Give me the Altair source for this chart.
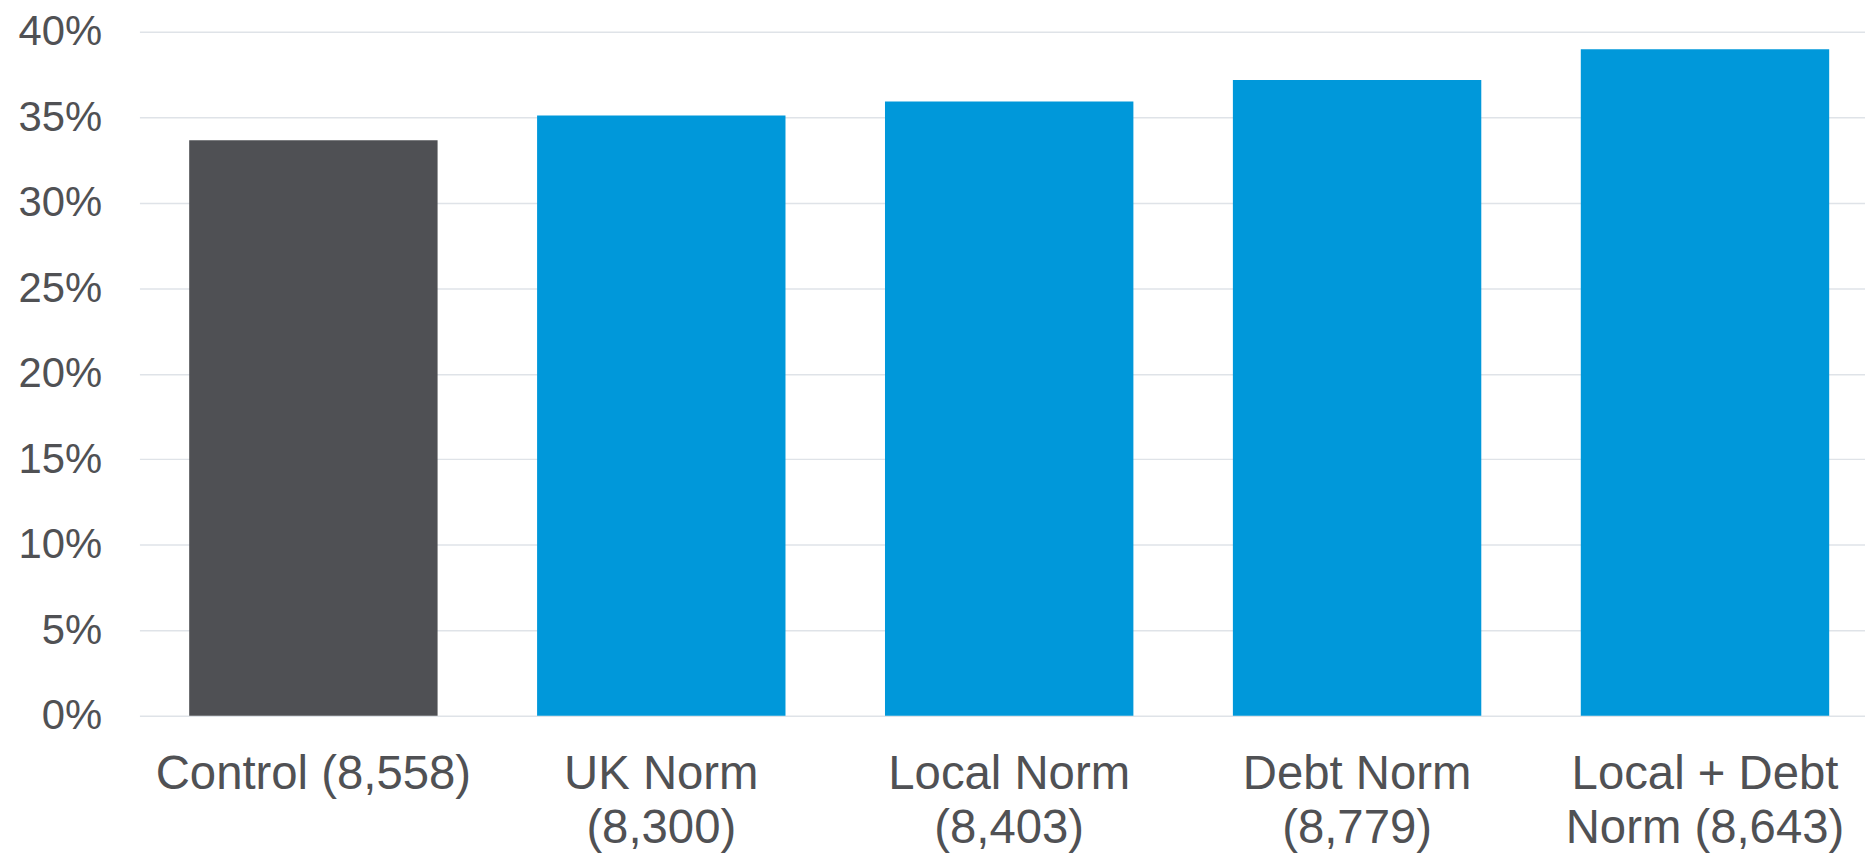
import altair as alt
import pandas as pd

categories = ["Control (8,558)", "UK Norm\n(8,300)", "Local Norm\n(8,403)",
              "Debt Norm\n(8,779)", "Local + Debt\nNorm (8,643)"]
values = [0.3365, 0.3510, 0.3592, 0.3718, 0.3898]
groups = ["Control", "Treatment", "Treatment", "Treatment", "Treatment"]
y_ticks = [0, 0.05, 0.10, 0.15, 0.20, 0.25, 0.30, 0.35, 0.40]

df = pd.DataFrame({"category": categories, "value": values, "group": groups})

font = "Liberation Sans"
text_color = "#505154"

chart = alt.Chart(df).mark_bar().encode(
    x=alt.X("category:N", sort=categories,
            scale=alt.Scale(paddingInner=0.286, paddingOuter=0.143, range=[0, 1747]),
            axis=alt.Axis(title=None, labelAngle=0, labelFont=font, labelFontSize=47.5,
                          labelColor=text_color, labelPadding=73, ticks=False,
                          domain=False, labelLineHeight=54, labelBaseline="alphabetic",
                          labelLimit=0,
                          labelExpr="split(datum.label, '\\n')")),
    y=alt.Y("value:Q", scale=alt.Scale(domain=[0, 0.4], nice=False),
            axis=alt.Axis(title=None, format=".0%", values=y_ticks, labelFont=font,
                          labelFontSize=42, labelColor=text_color, labelPadding=38,
                          ticks=False, domain=False, gridColor="#DFE3E8",
                          gridWidth=1.5)),
    color=alt.Color("group:N", scale=alt.Scale(domain=["Control", "Treatment"],
                                               range=["#4F5054", "#0098DA"]),
                    legend=None),
).properties(
    width=1725, height=687,
    autosize=alt.AutoSizeParams(type="none"),
    padding={"left": 132, "top": 22, "right": 8, "bottom": 137},
).configure_view(stroke=None)

chart.save("out.html", embed_options={"renderer": "svg", "actions": False})
